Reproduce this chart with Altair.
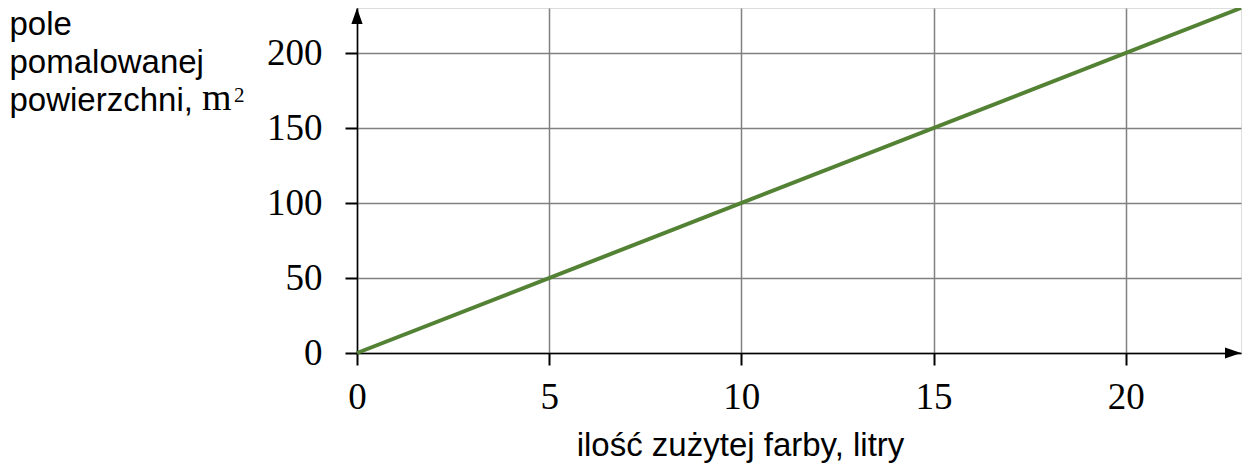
import altair as alt
import pandas as pd

# data
paint_litres = [0, 23]
area_m2 = [0, 230]
x_ticks = [0, 5, 10, 15, 20]
y_ticks = [0, 50, 100, 150, 200]
x_max = 23
y_max = 230

line_df = pd.DataFrame({"x": paint_litres, "y": area_m2})

SANS = "Liberation Sans"
SERIF = "Liberation Serif"

xscale = alt.Scale(domain=[0, x_max], nice=False, zero=True)
yscale = alt.Scale(domain=[0, y_max], nice=False, zero=True)

x_axis = alt.Axis(
    values=x_ticks, grid=True, gridColor="#808080", gridWidth=1.5,
    domainColor="black", domainWidth=1.5, tickColor="black", tickSize=12, tickWidth=2,
    labelFont=SERIF, labelFontSize=37, labelColor="black", labelPadding=14,
    labelFlush=False,
    title="ilość zużytej farby, litry", titleFont=SANS, titleFontSize=33,
    titleFontWeight="normal", titleColor="black",
    titleX=383, titleY=102, titleAlign="center", titleBaseline="alphabetic",
)
y_axis = alt.Axis(
    values=y_ticks, grid=True, gridColor="#808080", gridWidth=1.5,
    domainColor="black", domainWidth=1.5, tickColor="black", tickSize=12, tickWidth=2,
    labelFont=SERIF, labelFontSize=37, labelColor="black", labelPadding=23,
    labelFlush=False,
    title=["pole", "pomalowanej", "powierzchni,"], titleFont=SANS, titleFontSize=33,
    titleFontWeight="normal", titleColor="black", titleAngle=0,
    titleX=-348, titleY=26, titleAlign="left", titleBaseline="alphabetic",
    titleLineHeight=38,
)

line = alt.Chart(line_df).mark_line(color="#548235", strokeWidth=4, clip=False).encode(
    x=alt.X("x:Q", scale=xscale, axis=x_axis),
    y=alt.Y("y:Q", scale=yscale, axis=y_axis),
)

up_df = pd.DataFrame({"x": [0], "y": [y_max]})
right_df = pd.DataFrame({"x": [x_max], "y": [0]})

arrow_up = alt.Chart(up_df).mark_point(
    shape="M0,0 L-0.35,1 L0.35,1 Z", filled=True, color="black", size=1024, opacity=1, strokeWidth=0
).encode(x=alt.X("x:Q", scale=xscale), y=alt.Y("y:Q", scale=yscale))

arrow_right = alt.Chart(right_df).mark_point(
    shape="M0,0 L-1,-0.35 L-1,0.35 Z", filled=True, color="black", size=1024, opacity=1, strokeWidth=0
).encode(x=alt.X("x:Q", scale=xscale), y=alt.Y("y:Q", scale=yscale))

unit_df = pd.DataFrame({"t": ["m"]})
unit_m = alt.Chart(unit_df).mark_text(
    font=SERIF, fontSize=38, align="left", baseline="alphabetic", color="black"
).encode(x=alt.value(-155), y=alt.value(102), text="t:N")

sup_df = pd.DataFrame({"t": ["2"]})
unit_sup = alt.Chart(sup_df).mark_text(
    font=SERIF, fontSize=21, align="left", baseline="alphabetic", color="black"
).encode(x=alt.value(-123), y=alt.value(94), text="t:N")

chart = alt.layer(line, arrow_up, arrow_right, unit_m, unit_sup).properties(
    width=884, height=345,
    autosize=alt.AutoSizeParams(type="none"),
    padding={"left": 349, "top": 0, "right": 5, "bottom": 114},
).configure_view(stroke=None).configure(background="white")

chart.save("out.html", embed_options={"renderer": "svg", "actions": False})
